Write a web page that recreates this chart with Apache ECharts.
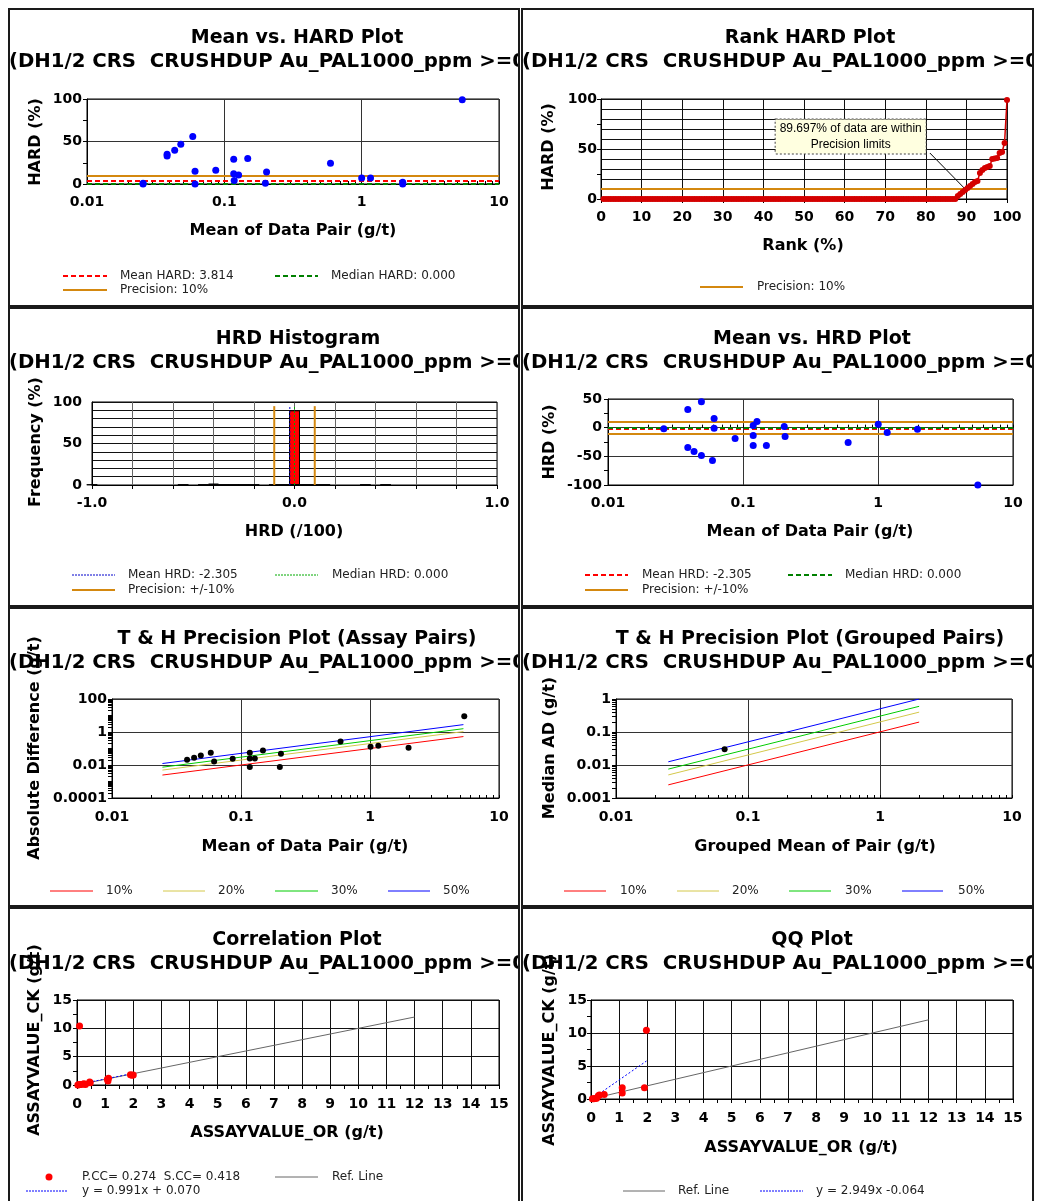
<!DOCTYPE html>
<html>
<head>
<meta charset="utf-8">
<title>CRUSHDUP precision plots</title>
<script src="https://cdn.jsdelivr.net/npm/echarts@6.0.0/dist/echarts.min.js"></script>
<style>
  body { margin: 0; background: #fff; }
  .panel { position: absolute; box-sizing: border-box; border: 2px solid #1a1a1a; overflow: hidden; background: #fff; }
  .panel > div { width: 100%; height: 100%; }
</style>
</head>
<body>
<div class="panel" style="left:8px;top:8px;width:512px;height:299px"><div id="p1"></div></div>
<div class="panel" style="left:521px;top:8px;width:513px;height:299px"><div id="p2"></div></div>
<div class="panel" style="left:8px;top:307px;width:512px;height:300px"><div id="p3"></div></div>
<div class="panel" style="left:521px;top:307px;width:513px;height:300px"><div id="p4"></div></div>
<div class="panel" style="left:8px;top:607px;width:512px;height:300px"><div id="p5"></div></div>
<div class="panel" style="left:521px;top:607px;width:513px;height:300px"><div id="p6"></div></div>
<div class="panel" style="left:8px;top:907px;width:512px;height:300px"><div id="p7"></div></div>
<div class="panel" style="left:521px;top:907px;width:513px;height:300px"><div id="p8"></div></div>
<script>
const FONT = '"DejaVu Sans", Verdana, sans-serif';
const TITLE_FONT = 'bold 19px ' + FONT;
const SUB_FONT = 'bold 19.7px ' + FONT;
const AXIS_FONT = 'bold 16px ' + FONT;
const LEGEND_FONT = '12px ' + FONT;
const ORANGE = '#d4880f';
const SUBTITLE = '(DH1/2 CRS  CRUSHDUP Au_PAL1000_ppm >=0)';

// Mean vs. HARD
const hardMean = [0.0256, 0.0256, 0.0383, 0.0383, 0.0435, 0.0482, 0.0589, 0.0612, 0.0612, 0.0866, 0.117, 0.117, 0.118, 0.127, 0.148, 0.203, 0.199, 0.593, 1.0, 1.16, 1.99, 1.99, 5.4];
const hardValue = [0, 1, 33, 35, 39.7, 46.7, 56, 15, 0, 16.3, 29, 12, 4, 10.5, 30, 14, 1, 24.5, 7, 7, 2, 0, 99];
const hardPrecision = 10;
const hardMeanValue = 3.814;
const hardMedianValue = 0;

// Rank HARD (sorted HARD values, 165 pairs)
const rankCount = 165;
const rankZeroCount = 144;
const rankTail = [3, 5, 7, 9, 11, 13, 15, 17, 18, 26, 29, 31, 32, 33, 40, 40.5, 41, 46, 47, 56, 99];
const rankWithin = 89.697;

// HRD histogram
const hrdBins = [-1.0, -0.55, -0.45, -0.4, -0.35, -0.3, -0.25, -0.2, -0.1, -0.05, 0, 0.05, 0.1, 0.15, 0.35, 0.45];
const hrdFreq = [0.6, 0.6, 0.6, 1.8, 0.6, 0.6, 0.6, 0.6, 0.6, 0.6, 90, 0.6, 0.6, 0.6, 0.6, 0.6];
const histPrecision = 0.1;
const histMean = -0.02305;
const histMedian = 0;
const histLineTop = 95;

// Mean vs. HRD
const hrdMean = [0.0259, 0.039, 0.039, 0.0434, 0.0492, 0.0492, 0.0594, 0.0611, 0.0611, 0.0874, 0.119, 0.119, 0.119, 0.127, 0.149, 0.202, 0.205, 0.601, 1.004, 1.17, 1.96, 5.49];
const hrdValue = [-2, 31.5, -34.5, -41.5, 45.4, -48.4, -57.1, 15.8, -1, -18.9, 3.7, -13.7, -31, 10.6, -31, 2, -15.4, -25.9, 6, -8.5, -2.7, -100];
const hrdPrecision = 10;
const hrdMeanValue = -2.305;
const hrdMedianValue = 0;

// T & H assay pairs
const thMean = [0.0382, 0.0433, 0.0488, 0.0583, 0.0619, 0.0862, 0.117, 0.117, 0.117, 0.128, 0.148, 0.204, 0.2, 0.591, 1.01, 1.16, 1.99, 5.38];
const thAbsDiff = [0.0207, 0.0273, 0.0378, 0.0547, 0.0164, 0.0238, 0.0547, 0.0249, 0.0075, 0.0249, 0.0757, 0.0476, 0.0075, 0.265, 0.126, 0.145, 0.11, 8.97];
const thLineX = [0.0246, 5.3];
const th10 = [0.00246, 0.53];
const th20 = [0.00492, 1.06];
const th30 = [0.00738, 1.59];
const th50 = [0.0123, 2.8];

// T & H grouped pairs
const grpMean = [0.0665];
const grpMedianAD = [0.0302];
const grpLineX = [0.0249, 1.98];
const grp10 = [0.0025, 0.2];
const grp20 = [0.005, 0.4];
const grp30 = [0.0075, 0.6];
const grp50 = [0.0125, 1.0];

// Correlation
const corrOR = [0.03, 0.06, 0.09, 0.1, 0.12, 0.2, 0.25, 0.3, 0.45, 0.47, 1.08, 1.1, 1.12, 1.9, 1.95, 2.0];
const corrCK = [0.02, 0.05, 10.4, 0.08, 0.1, 0.15, 0.2, 0.1, 0.55, 0.4, 1.0, 0.7, 1.2, 1.8, 1.7, 1.75];
const corrRegX = [0, 2.0];
const corrRegY = [0.07, 2.05];

// QQ
const qqOR = [0.05, 0.1, 0.15, 0.2, 0.26, 0.3, 0.47, 1.11, 1.11, 1.9, 1.97];
const qqCK = [0.02, 0.05, 0.08, 0.12, 0.5, 0.6, 0.7, 0.9, 1.71, 1.71, 10.4];
const qqRegX = [0.05, 1.97];
const qqRegY = [0.08, 5.75];

const refLineX = [0, 12];
const refLineY = [0, 12];

const zip = (xs, ys) => xs.map((x, i) => [x, ys[i]]);

function logFmt(v) {
  return String(+(+v).toPrecision(3));
}
function every50(v) {
  return v % 50 === 0 ? String(v) : '';
}
function histFmt(v) {
  return Math.abs(v - Math.round(v)) < 1e-6 ? Math.round(v).toFixed(1) : '';
}

// tick positions 1..9 x each decade, for log axes
function decadeTicks(lo, hi) {
  const out = [];
  for (let d = lo; d < hi * 0.99; d *= 10) {
    for (let k = 1; k < 10; k++) out.push(+(d * k).toPrecision(3));
  }
  out.push(hi);
  return out;
}

function makeAxis(type, min, max, o) {
  const ax = {
    type: type, min: min, max: max,
    axisLine: { show: true, onZero: false, lineStyle: { color: '#000', width: 1 } },
    axisTick: { show: !o.noTick, length: 4, lineStyle: { color: '#000' } },
    axisLabel: { color: '#000', fontFamily: FONT, fontWeight: 'bold', fontSize: 14, margin: o.margin, formatter: o.fmt },
    splitLine: { show: true, lineStyle: { color: o.gridColor || '#333', width: 1 } }
  };
  if (o.interval) ax.interval = o.interval;
  if (o.logBase) ax.logBase = o.logBase;
  if (o.minor) ax.minorTick = { show: true, splitNumber: o.minor, length: 4, lineStyle: { color: '#000' } };
  return ax;
}

// a bare axis that only draws tick marks at the given values
function tickAxis(type, min, max, ticks, pos, inside, logBase) {
  const ax = {
    type: type, min: min, max: max, position: pos, offset: 0,
    axisLine: { show: false }, axisLabel: { show: false }, splitLine: { show: false },
    axisTick: { show: true, inside: inside, length: inside ? 3 : 4, customValues: ticks, lineStyle: { color: '#000' } }
  };
  if (logBase) ax.logBase = logBase;
  return ax;
}

function label(x, y, str, font, align, rotate, fill) {
  return {
    type: 'text', x: x, y: y, rotation: rotate ? Math.PI / 2 : 0, silent: true,
    style: { text: str, font: font, fill: fill || '#000', align: align || 'center', verticalAlign: 'middle' }
  };
}
function heading(cx, cy, title) {
  return [label(cx, cy, title, TITLE_FONT), label(-1, cy + 24, SUBTITLE, SUB_FONT, 'left')];
}
function legendLine(x1, x2, y, stroke, width, dash) {
  return { type: 'line', silent: true, shape: { x1: x1, y1: y, x2: x2, y2: y },
    style: { stroke: stroke, lineWidth: width, lineDash: dash || null } };
}
function legendText(x, y, str) {
  return label(x, y, str, LEGEND_FONT, 'left', false, '#222');
}

function hLine(v, color, width, dash) {
  return { yAxis: v, lineStyle: { color: color, width: width, type: dash || 'solid' } };
}
function markLines(list) {
  return { silent: true, symbol: 'none', z: 1, animation: false, label: { show: false }, data: list };
}
function dots(xs, ys, color, size) {
  return { type: 'scatter', data: zip(xs, ys), symbolSize: size, itemStyle: { color: color, opacity: 1 }, z: 4 };
}
function segment(xs, ys, color, width, dash) {
  return { type: 'line', data: zip(xs, ys), symbol: 'none', silent: true,
    lineStyle: { color: color, width: width, type: dash || 'solid' }, z: 3 };
}
function grid(left, top, width, height) {
  return { left: left, top: top, width: width, height: height, show: true, borderColor: '#000', borderWidth: 1, outerBoundsMode: 'none' };
}

const logTicks = decadeTicks(0.01, 10);
const logXAxis = (margin) => [
  makeAxis('log', 0.01, 10, { fmt: logFmt, margin: margin, noTick: true }),
  tickAxis('log', 0.01, 10, logTicks, 'bottom', true)
];

const rankPoints = [];
for (let i = 0; i < rankCount; i++) {
  rankPoints.push([(i + 1) / rankCount * 100, i < rankZeroCount ? 0 : rankTail[i - rankZeroCount]]);
}

const options = {
  p1: {
    animation: false,
    grid: grid(77, 89, 412, 85),
    xAxis: logXAxis(11),
    yAxis: makeAxis('value', 0, 100, { interval: 50, margin: 5, minor: 2 }),
    series: [Object.assign(dots(hardMean, hardValue, '#0000ff', 7), {
      markLine: markLines([
        hLine(hardPrecision, ORANGE, 2),
        hLine(hardMeanValue, '#ff0000', 2, [5, 3]),
        hLine(hardMedianValue, '#008000', 2, [5, 3])
      ])
    })],
    graphic: heading(287, 28, 'Mean vs. HARD Plot').concat([
      label(283, 221, 'Mean of Data Pair (g/t)', AXIS_FONT),
      label(26, 132, 'HARD (%)', AXIS_FONT, 'center', true),
      legendLine(53, 97, 266, '#ff0000', 2, [5, 3]), legendText(110, 266, 'Mean HARD: 3.814'),
      legendLine(265, 308, 266, '#008000', 2, [5, 3]), legendText(321, 266, 'Median HARD: 0.000'),
      legendLine(53, 97, 280, ORANGE, 2), legendText(110, 280, 'Precision: 10%')
    ])
  },
  p2: {
    animation: false,
    grid: grid(78, 89, 406, 100),
    xAxis: makeAxis('value', 0, 100, { interval: 10, margin: 11, gridColor: '#111' }),
    yAxis: [
      makeAxis('value', 0, 100, { interval: 10, margin: 4, fmt: every50, gridColor: '#111', noTick: true }),
      tickAxis('value', 0, 100, [0, 25, 50, 75, 100], 'left', false)
    ],
    series: [{
      type: 'line', data: rankPoints, symbol: 'circle', symbolSize: 6, showAllSymbol: true,
      lineStyle: { color: '#d40000', width: 1.5 }, itemStyle: { color: '#d40000' }, z: 4,
      markLine: markLines([
        hLine(hardPrecision, ORANGE, 2),
        [{ coord: [81, 46], lineStyle: { color: '#000', width: 1, type: 'solid' } }, { coord: [rankWithin, hardPrecision] }]
      ]),
      markPoint: {
        symbol: 'rect', symbolSize: 1, itemStyle: { color: 'transparent' }, silent: true, z: 6,
        label: {
          show: true, position: 'inside', formatter: rankWithin + '% of data are within\nPrecision limits',
          color: '#000', fontFamily: '"Liberation Sans", Arial, sans-serif', fontSize: 12, lineHeight: 16,
          backgroundColor: '#ffffe0', borderColor: '#444', borderWidth: 1, borderType: 'dotted', padding: [1, 4]
        },
        data: [{ coord: [61.5, 62.4] }]
      }
    }],
    graphic: heading(287, 28, 'Rank HARD Plot').concat([
      label(280, 236, 'Rank (%)', AXIS_FONT),
      label(26, 137, 'HARD (%)', AXIS_FONT, 'center', true),
      legendLine(177, 220, 277, ORANGE, 2), legendText(234, 277, 'Precision: 10%')
    ])
  },
  p3: {
    animation: false,
    grid: grid(82, 93, 405, 83),
    xAxis: makeAxis('value', -1, 1, { interval: 0.2, margin: 11, fmt: histFmt, gridColor: '#666' }),
    yAxis: [
      makeAxis('value', 0, 100, { interval: 10, margin: 10, fmt: every50, gridColor: '#111', noTick: true }),
      tickAxis('value', 0, 100, [0, 25, 50, 75, 100], 'left', false)
    ],
    series: [
      { type: 'bar', data: zip(hrdBins, hrdFreq), barWidth: 11, itemStyle: { color: '#ff0000', borderColor: '#000', borderWidth: 1 }, z: 2 },
      segment([-histPrecision, -histPrecision], [0, histLineTop], ORANGE, 2),
      segment([histPrecision, histPrecision], [0, histLineTop], ORANGE, 2),
      segment([histMean, histMean], [0, histLineTop], '#0000cc', 1, [2, 2]),
      segment([histMedian, histMedian], [0, histLineTop], '#00aa00', 1, [2, 2])
    ],
    graphic: heading(288, 30, 'HRD Histogram').concat([
      label(284, 223, 'HRD (/100)', AXIS_FONT),
      label(26, 133, 'Frequency (%)', AXIS_FONT, 'center', true),
      legendLine(62, 105, 266, '#0000cc', 1, [2, 1]), legendText(118, 266, 'Mean HRD: -2.305'),
      legendLine(265, 308, 266, '#00aa00', 1, [2, 1]), legendText(322, 266, 'Median HRD: 0.000'),
      legendLine(62, 105, 281, ORANGE, 2), legendText(118, 281, 'Precision: +/-10%')
    ])
  },
  p4: {
    animation: false,
    grid: grid(85, 90, 405, 86),
    xAxis: logXAxis(11),
    yAxis: makeAxis('value', -100, 50, { interval: 50, margin: 6, minor: 2 }),
    series: [Object.assign(dots(hrdMean, hrdValue, '#0000ff', 7), {
      markLine: markLines([
        hLine(hrdPrecision, ORANGE, 2),
        hLine(-hrdPrecision, ORANGE, 2),
        hLine(hrdMeanValue, '#ff0000', 2, [5, 3]),
        hLine(hrdMedianValue, '#008000', 2, [5, 3])
      ])
    })],
    graphic: heading(289, 30, 'Mean vs. HRD Plot').concat([
      label(287, 223, 'Mean of Data Pair (g/t)', AXIS_FONT),
      label(27, 133, 'HRD (%)', AXIS_FONT, 'center', true),
      legendLine(62, 105, 266, '#ff0000', 2, [5, 3]), legendText(119, 266, 'Mean HRD: -2.305'),
      legendLine(265, 309, 266, '#008000', 2, [5, 3]), legendText(322, 266, 'Median HRD: 0.000'),
      legendLine(62, 105, 281, ORANGE, 2), legendText(119, 281, 'Precision: +/-10%')
    ])
  },
  p5: {
    animation: false,
    grid: grid(102, 90, 387, 99),
    xAxis: logXAxis(12),
    yAxis: [
      makeAxis('log', 0.0001, 100, { logBase: 100, fmt: logFmt, margin: 5, noTick: true }),
      tickAxis('log', 0.0001, 100, decadeTicks(0.0001, 100), 'left', false, 100)
    ],
    series: [
      segment(thLineX, th10, '#ff0000', 1),
      segment(thLineX, th20, '#d4c84a', 1),
      segment(thLineX, th30, '#00cc00', 1),
      segment(thLineX, th50, '#0000ff', 1),
      dots(thMean, thAbsDiff, '#000', 6)
    ],
    graphic: heading(287, 30, 'T & H Precision Plot (Assay Pairs)').concat([
      label(295, 238, 'Mean of Data Pair (g/t)', AXIS_FONT),
      label(25, 139, 'Absolute Difference (g/t)', AXIS_FONT, 'center', true),
      legendLine(40, 83, 282, '#ff0000', 1), legendText(96, 282, '10%'),
      legendLine(153, 195, 282, '#d4c84a', 1), legendText(208, 282, '20%'),
      legendLine(265, 308, 282, '#00cc00', 1), legendText(321, 282, '30%'),
      legendLine(378, 420, 282, '#0000ff', 1), legendText(433, 282, '50%')
    ])
  },
  p6: {
    animation: false,
    grid: grid(93, 90, 396, 99),
    xAxis: logXAxis(12),
    yAxis: [
      makeAxis('log', 0.001, 1, { fmt: logFmt, margin: 5, noTick: true }),
      tickAxis('log', 0.001, 1, decadeTicks(0.001, 1), 'left', false)
    ],
    series: [
      segment(grpLineX, grp10, '#ff0000', 1),
      segment(grpLineX, grp20, '#d4c84a', 1),
      segment(grpLineX, grp30, '#00cc00', 1),
      segment(grpLineX, grp50, '#0000ff', 1),
      dots(grpMean, grpMedianAD, '#000', 6)
    ],
    graphic: heading(287, 30, 'T & H Precision Plot (Grouped Pairs)').concat([
      label(292, 238, 'Grouped Mean of Pair (g/t)', AXIS_FONT),
      label(27, 139, 'Median AD (g/t)', AXIS_FONT, 'center', true),
      legendLine(41, 83, 282, '#ff0000', 1), legendText(97, 282, '10%'),
      legendLine(154, 196, 282, '#d4c84a', 1), legendText(209, 282, '20%'),
      legendLine(266, 308, 282, '#00cc00', 1), legendText(322, 282, '30%'),
      legendLine(379, 420, 282, '#0000ff', 1), legendText(435, 282, '50%')
    ])
  },
  p7: {
    animation: false,
    grid: grid(67, 91, 422, 85),
    xAxis: makeAxis('value', 0, 15, { interval: 1, margin: 12, minor: 2, gridColor: '#111' }),
    yAxis: makeAxis('value', 0, 15, { interval: 5, margin: 5, minor: 2, gridColor: '#111' }),
    series: [
      segment(refLineX, refLineY, '#666', 1),
      segment(corrRegX, corrRegY, '#0000ff', 1, [2, 2]),
      dots(corrOR, corrCK, '#ff0000', 7)
    ],
    graphic: heading(287, 31, 'Correlation Plot').concat([
      label(277, 224, 'ASSAYVALUE_OR (g/t)', AXIS_FONT),
      label(25, 131, 'ASSAYVALUE_CK (g/t)', AXIS_FONT, 'center', true),
      { type: 'circle', silent: true, shape: { cx: 39, cy: 268, r: 3.5 }, style: { fill: '#ff0000' } },
      legendText(72, 268, 'P.CC= 0.274  S.CC= 0.418'),
      legendLine(265, 308, 268, '#666', 1), legendText(322, 268, 'Ref. Line'),
      legendLine(16, 58, 282, '#0000ff', 1, [2, 1]), legendText(72, 282, 'y = 0.991x + 0.070')
    ])
  },
  p8: {
    animation: false,
    grid: grid(68, 91, 422, 99),
    xAxis: makeAxis('value', 0, 15, { interval: 1, margin: 12, minor: 2, gridColor: '#111' }),
    yAxis: makeAxis('value', 0, 15, { interval: 5, margin: 4, minor: 2, gridColor: '#111' }),
    series: [
      segment(refLineX, refLineY, '#666', 1),
      segment(qqRegX, qqRegY, '#0000ff', 1, [2, 2]),
      dots(qqOR, qqCK, '#ff0000', 7)
    ],
    graphic: heading(289, 31, 'QQ Plot').concat([
      label(278, 239, 'ASSAYVALUE_OR (g/t)', AXIS_FONT),
      label(27, 141, 'ASSAYVALUE_CK (g/t)', AXIS_FONT, 'center', true),
      legendLine(100, 142, 282, '#666', 1), legendText(155, 282, 'Ref. Line'),
      legendLine(237, 280, 282, '#0000ff', 1, [2, 1]), legendText(293, 282, 'y = 2.949x -0.064')
    ])
  }
};

Object.keys(options).forEach(function (id) {
  const chart = echarts.init(document.getElementById(id), null, { renderer: 'canvas' });
  chart.setOption(options[id]);
});
</script>
</body>
</html>
